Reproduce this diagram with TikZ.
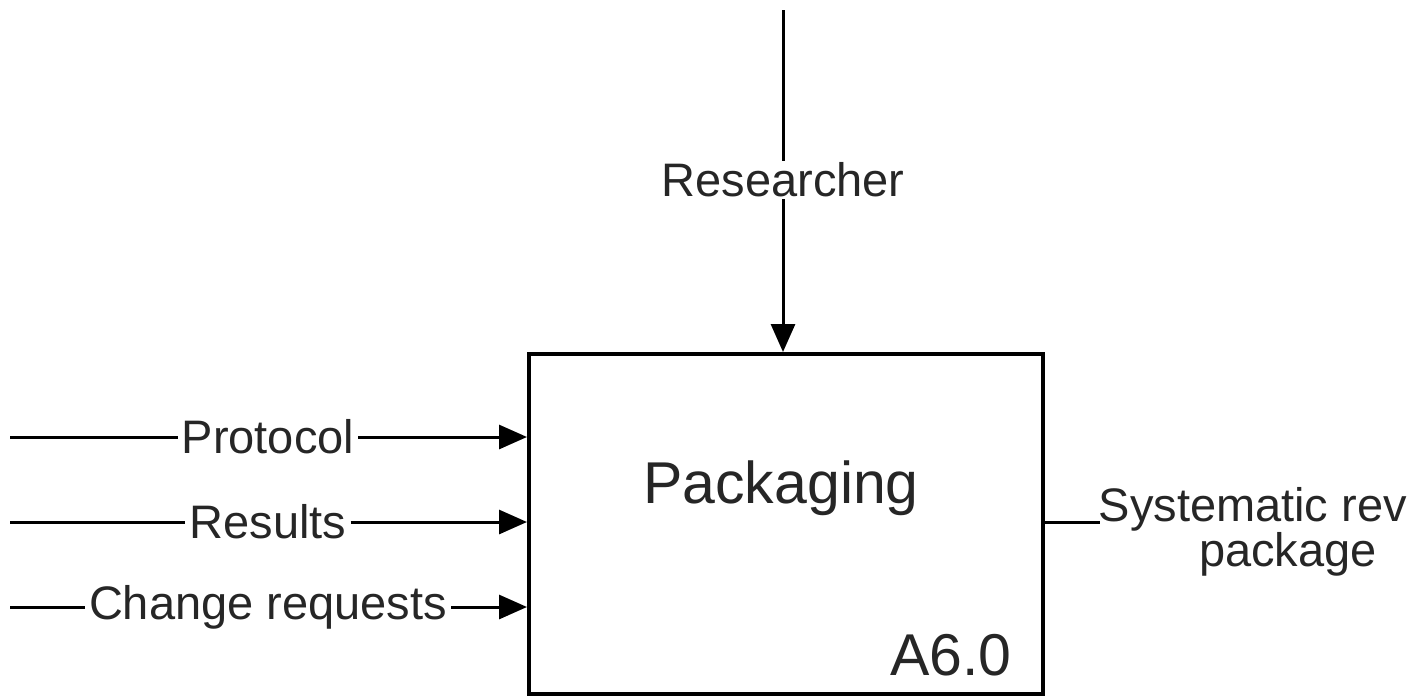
\documentclass[tikz,border=0pt]{standalone}
\usepackage{fontspec}
\setmainfont{Liberation Sans}
\usetikzlibrary{arrows.meta}
\begin{document}
\begin{tikzpicture}[x=1pt,y=-1pt,
  flow/.style={line width=3pt,-{Triangle[length=28pt,width=24pt]}},
  plain/.style={line width=3pt},
  lbl/.style={fill=white,inner xsep=4pt,inner ysep=2pt,font=\fontsize{47}{52}\selectfont,text=black!85},
  big/.style={font=\fontsize{59}{64}\selectfont,text=black!85}]
\useasboundingbox (0,0) rectangle (1409,697);
% activity box
\node[draw,line width=3.5pt,minimum width=514pt,minimum height=340pt,inner sep=0pt,anchor=north west] (box) at (527,352) {};
\node[big] (title) at (781,488) {Packaging};
\node[big,anchor=south east,inner sep=0pt] (num) at (1012,676) {A6.0};
% mechanism from above
\coordinate (mtop) at (783,10);
\node[lbl] (res) at (783,180) {Researcher};
\draw[plain] (mtop) -- (res);
\draw[flow] (res) -- (783,352);
% inputs
\coordinate (i1) at (10,437);
\coordinate (i2) at (10,522);
\coordinate (i3) at (10,607);
\node[lbl] (prot) at (268,437) {Protocol};
\node[lbl] (resu) at (268,522) {Results};
\node[lbl] (chg) at (268,607) {Change requests};
\draw[plain] (i1) -- (prot);
\draw[plain] (i2) -- (resu);
\draw[plain] (i3) -- (chg);
\draw[flow] (prot) -- (box.west |- prot);
\draw[flow] (resu) -- (box.west |- resu);
\draw[flow] (chg) -- (box.west |- chg);
% output
\node[font=\fontsize{47}{45}\selectfont,text=black!85,align=center,inner sep=0pt] (out) at (1288,532) {Systematic review\\package};
\coordinate (oend) at (1100,522);
\draw[plain] (box.east |- oend) -- (oend);
\end{tikzpicture}
\end{document}
